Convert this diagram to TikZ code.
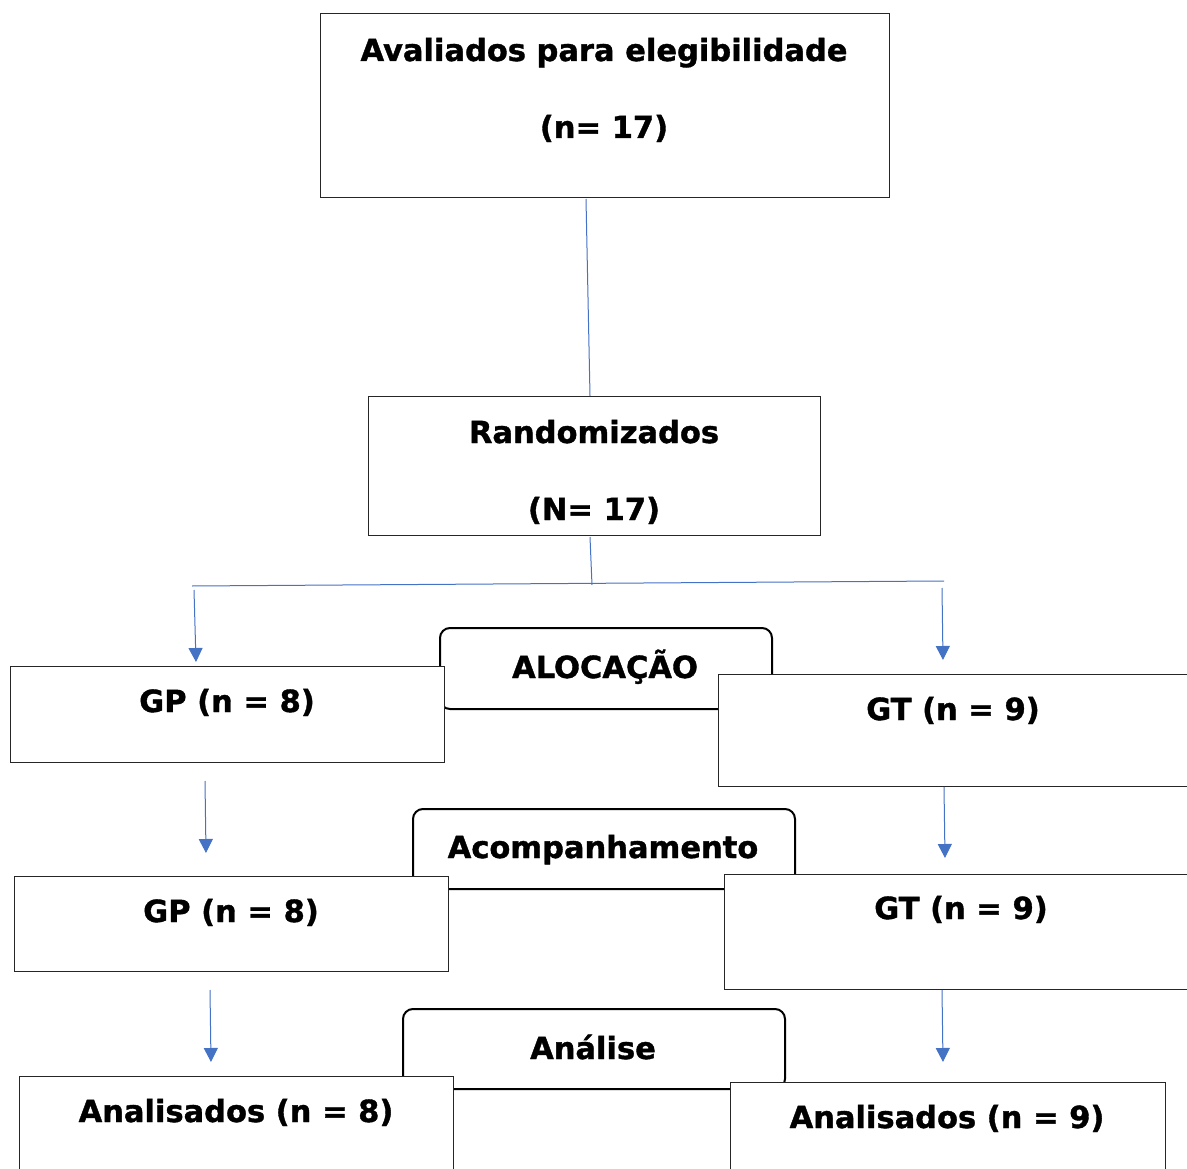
\documentclass[tikz,border=0pt]{standalone}
\usepackage{fontspec}
\setmainfont{DejaVu Sans}[BoldFeatures={FakeBold=1.2}]
\usetikzlibrary{arrows.meta}
\definecolor{lnblue}{HTML}{4472C4}
\definecolor{boxgray}{HTML}{262626}
\tikzset{
  box/.style={draw=boxgray, line width=1.3pt, fill=white, rectangle, inner sep=0pt, anchor=north west},
  tag/.style={draw=black, line width=2pt, fill=white, rectangle, rounded corners=10pt, inner sep=0pt, anchor=north west},
  txt/.style={font=\fontsize{30.5}{32}\selectfont\bfseries, anchor=base, inner sep=0pt},
  bl/.style={draw=lnblue, line width=1pt},
  arr/.style={bl, -{Triangle[width=14pt,length=14pt]}, lnblue},
}
\begin{document}
\begin{tikzpicture}[x=1pt,y=-1pt]
\useasboundingbox (0,0) rectangle (1187,1169);
\clip (0,0) rectangle (1187,1169);
% top boxes
\node[box, minimum width=569pt, minimum height=184pt] (b1) at (320,13) {};
\node[txt] (t1a) at (604,61) {Avaliados para elegibilidade};
\node[txt] (t1b) at (604,138) {(n= 17)};
\node[box, minimum width=452pt, minimum height=139pt] (b2) at (368,396) {};
\node[txt] (t2a) at (594,443) {Randomizados};
\node[txt] (t2b) at (594,520) {(N= 17)};
% connectors top
\coordinate (c1) at (586,199);
\coordinate (c2) at (590,537);
\coordinate (jm) at (592,585);
\coordinate (jl) at (192,586);
\coordinate (jr) at (944,581);
\draw[bl] (c1) -- (590,396);
\draw[bl] (c2) -- (jm);
\draw[bl] (jl) -- (jr);
% row 1
\node[tag, minimum width=332pt, minimum height=81pt] (r1) at (439,627) {};
\node[txt] (r1t) at (605,678) {ALOCAÇÃO};
\node[box, minimum width=434pt, minimum height=96pt] (gp1) at (10,666) {};
\node[txt] (gp1t) at (227,712) {GP (n = 8)};
\node[box, minimum width=490pt, minimum height=112pt] (gt1) at (718,674) {};
\node[txt] (gt1t) at (953,720) {GT (n = 9)};
\coordinate (a1) at (194,590);
\coordinate (a2) at (942,588);
\draw[arr] (a1) -- (196,662);
\draw[arr] (a2) -- (943,660);
% row 2
\node[tag, minimum width=382pt, minimum height=80pt] (r2) at (412,808) {};
\node[txt] (r2t) at (603,858) {Acompanhamento};
\node[box, minimum width=434pt, minimum height=95pt] (gp2) at (14,876) {};
\node[txt] (gp2t) at (231,922) {GP (n = 8)};
\node[box, minimum width=490pt, minimum height=115pt] (gt2) at (724,874) {};
\node[txt] (gt2t) at (961,919) {GT (n = 9)};
\coordinate (a3) at (205,781);
\coordinate (a4) at (944,787);
\draw[arr] (a3) -- (206,853);
\draw[arr] (a4) -- (945,858);
% row 3
\node[tag, minimum width=382pt, minimum height=80pt] (r3) at (402,1008) {};
\node[txt] (r3t) at (593,1059) {Análise};
\node[box, minimum width=434pt, minimum height=110pt] (an1) at (19,1076) {};
\node[txt] (an1t) at (236,1122) {Analisados (n = 8)};
\node[box, minimum width=435pt, minimum height=110pt] (an2) at (730,1082) {};
\node[txt] (an2t) at (947,1128) {Analisados (n = 9)};
\coordinate (a5) at (210,990);
\coordinate (a6) at (942,990);
\draw[arr] (a5) -- (211,1062);
\draw[arr] (a6) -- (943,1062);
\end{tikzpicture}
\end{document}
